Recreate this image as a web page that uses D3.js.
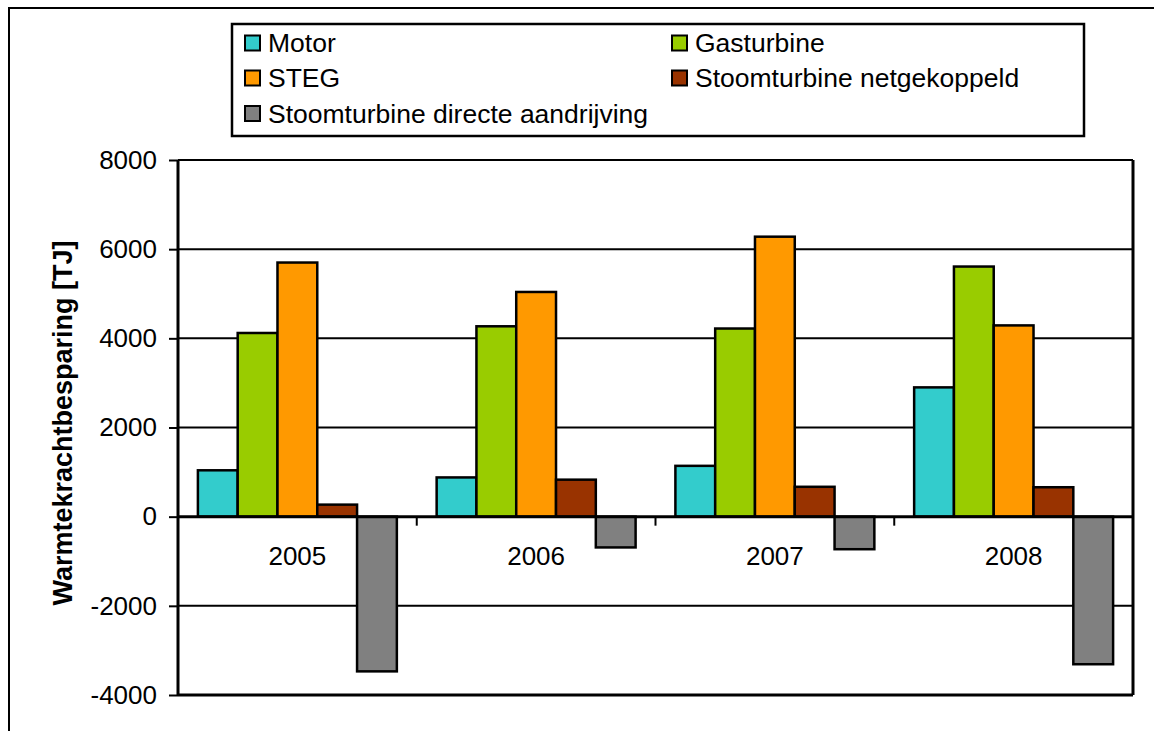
<!DOCTYPE html>
<html>
<head>
<meta charset="utf-8">
<script src="https://cdn.jsdelivr.net/npm/d3@7"></script>
<style>
  html, body { margin: 0; padding: 0; background: #fff; }
  svg { display: block; }
  text { font-family: "Liberation Sans", Arial, Helvetica, sans-serif; fill: #000; }
</style>
</head>
<body>
<svg id="chart" width="1154" height="731"></svg>
<script>
// ---- data ----
const years = ["2005", "2006", "2007", "2008"];
const seriesNames = ["Motor", "Gasturbine", "STEG", "Stoomturbine netgekoppeld", "Stoomturbine directe aandrijving"];
const motor       = [1040, 880, 1140, 2900];
const gasturbine  = [4120, 4270, 4220, 5610];
const steg        = [5700, 5040, 6280, 4290];
const netgekoppeld = [270, 830, 670, 660];
const directe     = [-3470, -690, -730, -3310];
const yTicks = [-4000, -2000, 0, 2000, 4000, 6000, 8000];
const yTitle = "Warmtekrachtbesparing [TJ]";

const seriesValues = [motor, gasturbine, steg, netgekoppeld, directe];
const colors = ["#33CCCC", "#99CC00", "#FF9900", "#993300", "#808080"];

const svg = d3.select("#chart");
const plot = { left: 178, right: 1133, top: 160, bottom: 695 };
const FS = 26;
const FS_LEG = 26.5;

// outer chart border
svg.append("rect").attr("x", 9).attr("y", 8).attr("width", 1300).attr("height", 900)
  .attr("fill", "none").attr("stroke", "#000").attr("stroke-width", 2);

const x0 = d3.scaleBand().domain(years).range([plot.left, plot.right]).paddingInner(0).paddingOuter(0);
const x1 = d3.scaleBand().domain(d3.range(seriesNames.length)).range([0, x0.bandwidth()])
  .paddingInner(0).paddingOuter(0.5);
const y = d3.scaleLinear().domain([-4000, 8000]).range([plot.bottom, plot.top]);

// gridlines
svg.append("g").selectAll("line").data(yTicks.filter(t => t !== 0 && t !== -4000)).join("line")
  .attr("x1", plot.left).attr("x2", plot.right)
  .attr("y1", d => y(d)).attr("y2", d => y(d))
  .attr("stroke", "#000").attr("stroke-width", 2);

// plot border (bottom & right)
svg.append("line").attr("x1", plot.left).attr("x2", plot.right).attr("y1", plot.bottom).attr("y2", plot.bottom)
  .attr("stroke", "#000").attr("stroke-width", 3);
svg.append("line").attr("x1", plot.right).attr("x2", plot.right).attr("y1", plot.top).attr("y2", plot.bottom)
  .attr("stroke", "#000").attr("stroke-width", 3);

// bars
const rows = [];
years.forEach((yr, i) => seriesValues.forEach((vals, s) => rows.push({ yr, s, v: vals[i] })));
svg.append("g").selectAll("rect").data(rows).join("rect")
  .attr("x", d => x0(d.yr) + x1(d.s))
  .attr("width", x1.bandwidth())
  .attr("y", d => y(Math.max(0, d.v)))
  .attr("height", d => Math.abs(y(d.v) - y(0)))
  .attr("fill", d => colors[d.s])
  .attr("stroke", "#000").attr("stroke-width", 2.5);

// zero axis line with category ticks
const xAxis = d3.axisBottom(x0).tickSize(0).tickFormat("");
const gx = svg.append("g").attr("transform", `translate(0,${y(0)})`).call(xAxis);
gx.select(".domain").attr("stroke", "#000").attr("stroke-width", 3).attr("d", `M${plot.left},0H${plot.right}`);
svg.append("g").selectAll("line").data(years.slice(1)).join("line")
  .attr("x1", d => x0(d)).attr("x2", d => x0(d))
  .attr("y1", y(0)).attr("y2", y(0) + 9)
  .attr("stroke", "#000").attr("stroke-width", 2);
svg.append("g").selectAll("text").data(years).join("text")
  .attr("x", d => x0(d) + x0.bandwidth() / 2)
  .attr("y", y(0) + 48)
  .attr("text-anchor", "middle")
  .attr("font-size", FS)
  .text(d => d);

// y axis
const yAxis = d3.axisLeft(y).tickValues(yTicks).tickSize(9).tickPadding(12).tickFormat(d => String(d));
const gy = svg.append("g").attr("transform", `translate(${plot.left},0)`).call(yAxis);
gy.select(".domain").attr("stroke", "#000").attr("stroke-width", 3).attr("d", `M0,${plot.top}V${plot.bottom}`);
gy.selectAll(".tick line").attr("stroke", "#000").attr("stroke-width", 2);
gy.selectAll(".tick text").attr("font-size", FS)
  .attr("font-family", '"Liberation Sans", Arial, sans-serif').attr("fill", "#000");

// y title
svg.append("text")
  .attr("transform", `translate(72,${(238 + 608) / 2}) rotate(-90)`)
  .attr("text-anchor", "middle")
  .attr("font-size", 27).attr("font-weight", "bold")
  .text(yTitle);

// legend
const lg = svg.append("g");
lg.append("rect").attr("x", 232).attr("y", 24).attr("width", 852).attr("height", 112)
  .attr("fill", "#fff").attr("stroke", "#000").attr("stroke-width", 2.5);
const legendPos = [[245, 43], [672, 43], [245, 78], [672, 78], [245, 113.5]];
seriesNames.forEach((name, i) => {
  const [lx, ly] = legendPos[i];
  lg.append("rect").attr("x", lx).attr("y", ly - 7.5).attr("width", 15).attr("height", 15)
    .attr("fill", colors[i]).attr("stroke", "#000").attr("stroke-width", 2);
  lg.append("text").attr("x", lx + 23).attr("y", ly + 9).attr("font-size", FS_LEG).text(name);
});
</script>
</body>
</html>
